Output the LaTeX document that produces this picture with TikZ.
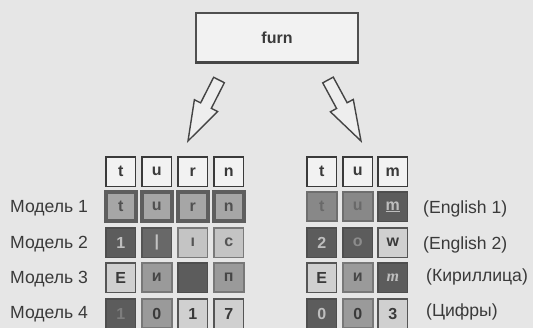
\documentclass[tikz,border=0pt]{standalone}
\usepackage{fontspec}
\setmainfont{Liberation Sans}
\newfontfamily\itserif{Liberation Serif}
\usetikzlibrary{calc}
\definecolor{bg}{HTML}{E6E6E6}
\definecolor{ink}{HTML}{3A3A3A}
\tikzset{
  cell/.style={anchor=north west, minimum width=29.5pt, minimum height=29.5pt, inner sep=0pt, outer sep=0pt,
    font=\fontsize{16}{16}\selectfont\bfseries},
  hdr/.style={cell, draw=ink, line width=1.3pt, fill={rgb,255:red,242;green,242;blue,242}, text=ink},
  mid/.style={cell, draw={rgb,255:red,94;green,94;blue,94}, line width=4pt, fill={rgb,255:red,166;green,166;blue,166}, text={rgb,255:red,80;green,80;blue,80}},
  dark/.style={cell, draw={rgb,255:red,78;green,78;blue,78}, line width=1.5pt, fill={rgb,255:red,92;green,92;blue,92}, text={rgb,255:red,190;green,190;blue,190}},
  dim/.style={cell, draw={rgb,255:red,84;green,84;blue,84}, line width=1.5pt, fill={rgb,255:red,104;green,104;blue,104}, text={rgb,255:red,195;green,195;blue,195}},
  light/.style={cell, draw={rgb,255:red,85;green,85;blue,85}, line width=1.5pt, fill={rgb,255:red,208;green,208;blue,208}, text=ink},
  pale/.style={cell, draw={rgb,255:red,122;green,122;blue,122}, line width=1.5pt, fill={rgb,255:red,196;green,196;blue,196}, text={rgb,255:red,85;green,85;blue,85}},
  gray/.style={cell, draw={rgb,255:red,120;green,120;blue,120}, line width=2pt, fill={rgb,255:red,154;green,154;blue,154}, text={rgb,255:red,70;green,70;blue,70}},
  faint/.style={cell, draw={rgb,255:red,110;green,110;blue,110}, line width=2pt, fill={rgb,255:red,136;green,136;blue,136}, text={rgb,255:red,105;green,105;blue,105}},
  lbl/.style={anchor=west, inner sep=0pt, text=ink, font=\fontsize{17.6}{17.6}\selectfont},
  topbox/.style={draw={rgb,255:red,80;green,80;blue,80}, line width=1.5pt, fill={rgb,255:red,242;green,242;blue,242},
    minimum width=162pt, minimum height=49pt, inner sep=0pt, text=ink, font=\fontsize{16}{16}\selectfont\bfseries},
  blockarrow/.style={draw={rgb,255:red,68;green,68;blue,68}, line width=1.4pt, fill={rgb,255:red,238;green,238;blue,238}, line join=miter}
}
\begin{document}
\begin{tikzpicture}[x=1pt,y=-1pt]
\fill[bg] (0,0) rectangle (533,328);
\useasboundingbox (0,0) rectangle (533,328);

% source box
\node[topbox] (src) at (277,37.5) {furn};
\draw[line width=2.5pt, draw={rgb,255:red,70;green,70;blue,70}] (src.south west) -- (src.south east);

% block arrows
\coordinate (la) at (219,80);
\coordinate (lb) at (188,141);
\coordinate (lp) at ($(la)!0.42!(lb)$);
\draw[blockarrow] ($(la)!6pt!90:(lb)$) -- ($(lp)!6pt!90:(lb)$) -- ($(lp)!13pt!90:(lb)$) -- (lb)
  -- ($(lp)!13pt!-90:(lb)$) -- ($(lp)!6pt!-90:(lb)$) -- ($(la)!6pt!-90:(lb)$) -- cycle;
\coordinate (ra) at (328,80);
\coordinate (rb) at (361,141);
\coordinate (rp) at ($(ra)!0.42!(rb)$);
\draw[blockarrow] ($(ra)!6pt!90:(rb)$) -- ($(rp)!6pt!90:(rb)$) -- ($(rp)!13pt!90:(rb)$) -- (rb)
  -- ($(rp)!13pt!-90:(rb)$) -- ($(rp)!6pt!-90:(rb)$) -- ($(ra)!6pt!-90:(rb)$) -- cycle;

% left grid
\node[hdr] (L01) at (106,157) {t};
\node[hdr] (L02) at (142,157) {u};
\node[hdr] (L03) at (178,157) {r};
\node[hdr] (L04) at (214,157) {n};

\node[mid] (L11) at (106,192) {t};
\node[mid] (L12) at (142,192) {u};
\node[mid] (L13) at (178,192) {r};
\node[mid] (L14) at (214,192) {n};

\node[dark] (L21) at (106,228) {1};
\node[dim] (L22) at (142,228) {|};
\node[pale] (L23) at (178,228) {ı};
\node[pale] (L24) at (214,228) {c};

\node[light] (L31) at (106,263) {E};
\node[gray] (L32) at (142,263) {и};
\node[dark] (L33) at (178,263) {};
\node[gray] (L34) at (214,263) {п};

\node[dark, text={rgb,255:red,125;green,125;blue,125}] (L41) at (106,299) {1};
\node[gray, text=ink] (L42) at (142,299) {0};
\node[light] (L43) at (178,299) {1};
\node[light] (L44) at (214,299) {7};

% right grid
\node[hdr] (R01) at (307,157) {t};
\node[hdr] (R02) at (343,157) {u};
\node[hdr] (R03) at (378,157) {m};

\node[faint] (R11) at (307,192) {t};
\node[faint] (R12) at (343,192) {u};
\node[dark] (R13) at (378,192) {\underline{m}};

\node[dark] (R21) at (307,228) {2};
\node[dark, text={rgb,255:red,140;green,140;blue,140}] (R22) at (343,228) {o};
\node[light] (R23) at (378,228) {w};

\node[light] (R31) at (307,263) {E};
\node[gray] (R32) at (343,263) {и};
\node[dark] (R33) at (378,263) {\itserif\itshape т};

\node[dark] (R41) at (307,299) {0};
\node[gray, text=ink] (R42) at (343,299) {0};
\node[light] (R43) at (378,299) {3};

% row labels
\node[lbl] (ml1) at (10,208) {Модель 1};
\node[lbl] (ml2) at (10,244) {Модель 2};
\node[lbl] (ml3) at (10,279) {Модель 3};
\node[lbl] (ml4) at (10,314) {Модель 4};

\node[lbl] (rl1) at (423,209) {(English 1)};
\node[lbl] (rl2) at (423,245) {(English 2)};
\node[lbl] (rl3) at (426,277) {(Кириллица)};
\node[lbl] (rl4) at (426,312) {(Цифры)};
\end{tikzpicture}
\end{document}
